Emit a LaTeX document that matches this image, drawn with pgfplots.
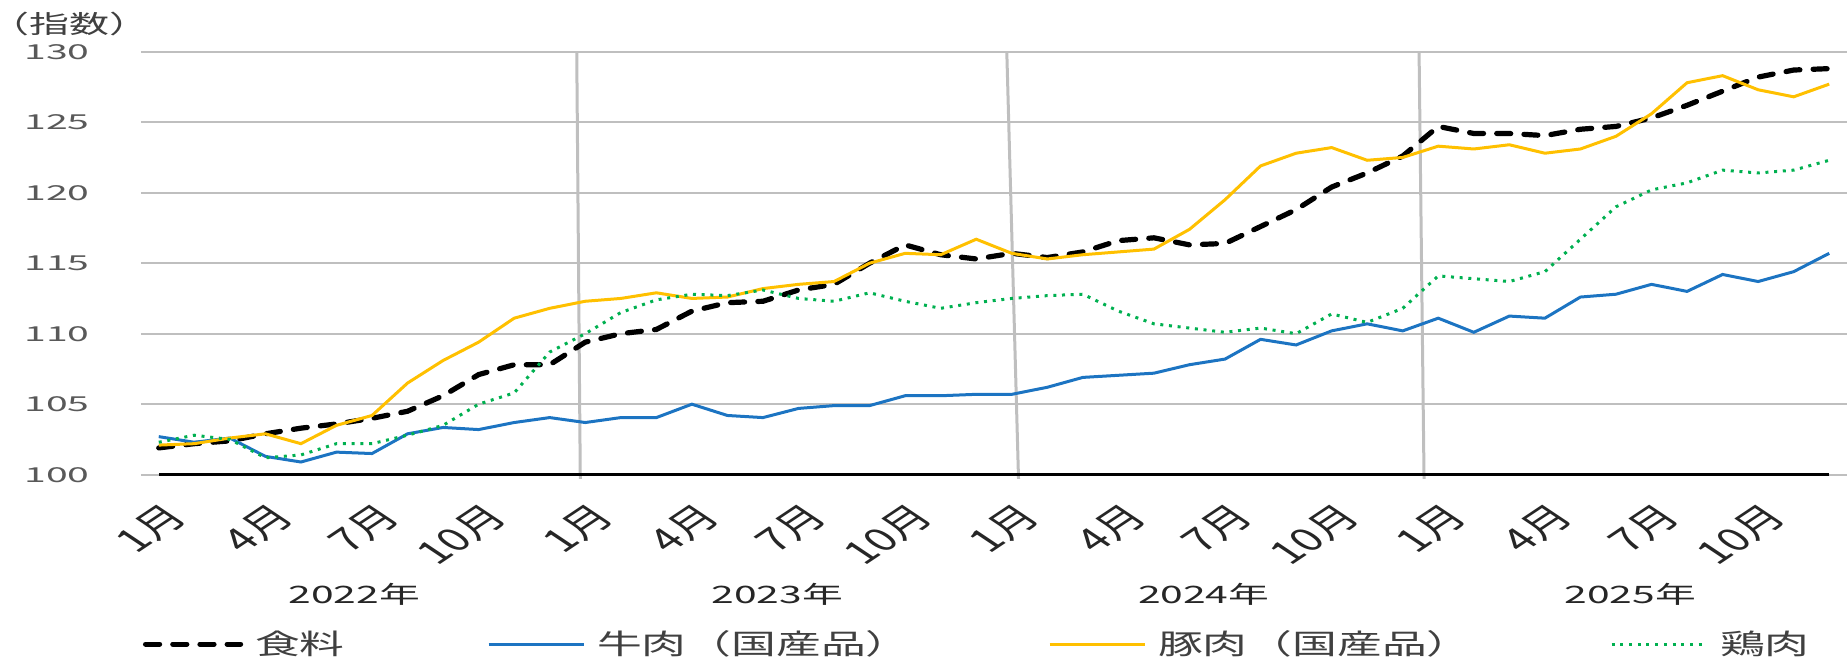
\documentclass[border=0pt]{standalone}
\usepackage{pgfplots}
\pgfplotsset{compat=1.18}
\usepackage{fontspec}
\usepackage{graphicx}
\setmainfont{Noto Sans CJK JP}
\definecolor{gridgray}{HTML}{BFBFBF}
\definecolor{beef}{HTML}{1C74C2}
\definecolor{pork}{HTML}{FFC000}
\definecolor{chicken}{HTML}{00B050}
\definecolor{tickgray}{HTML}{595959}
\definecolor{txt}{HTML}{404040}
\newcommand{\Ynum}[1]{\scalebox{1.9}[1]{#1}}
\newcommand{\Str}[1]{\scalebox{1.6}[1]{#1}}
\newcommand{\Yr}[1]{\scalebox{1.7}[1]{#1}}
\pgfplotstableread{
m food beef pork chicken
0 101.9 102.7 102.1 102.3
1 102.2 102.3 102.2 102.8
2 102.4 102.6 102.6 102.5
3 102.9 101.3 102.9 101.2
4 103.3 100.9 102.2 101.4
5 103.6 101.6 103.5 102.2
6 104.0 101.5 104.2 102.2
7 104.5 102.9 106.5 102.8
8 105.6 103.35 108.1 103.5
9 107.1 103.2 109.4 105.0
10 107.8 103.7 111.1 105.8
11 107.8 104.05 111.8 108.7
12 109.4 103.7 112.3 110.0
13 110.0 104.05 112.5 111.5
14 110.3 104.05 112.9 112.4
15 111.6 105.0 112.5 112.8
16 112.2 104.2 112.6 112.7
17 112.3 104.05 113.2 113.1
18 113.1 104.7 113.5 112.5
19 113.5 104.9 113.7 112.3
20 115.0 104.9 115.0 112.9
21 116.3 105.6 115.7 112.3
22 115.6 105.6 115.6 111.8
23 115.3 105.7 116.7 112.2
24 115.7 105.7 115.7 112.5
25 115.4 106.2 115.3 112.7
26 115.8 106.9 115.6 112.8
27 116.6 107.05 115.8 111.6
28 116.8 107.2 116.0 110.7
29 116.3 107.8 117.4 110.4
30 116.4 108.2 119.5 110.1
31 117.6 109.6 121.9 110.4
32 118.8 109.2 122.8 110.0
33 120.4 110.2 123.2 111.4
34 121.4 110.7 122.3 110.8
35 122.6 110.2 122.5 111.8
36 124.7 111.1 123.3 114.1
37 124.2 110.1 123.1 113.9
38 124.2 111.25 123.4 113.7
39 124.05 111.1 122.8 114.4
40 124.5 112.6 123.1 116.7
41 124.7 112.8 124.0 119.0
42 125.3 113.5 125.6 120.2
43 126.2 113.0 127.8 120.7
44 127.2 114.2 128.3 121.6
45 128.2 113.7 127.3 121.4
46 128.7 114.4 126.8 121.6
47 128.8 115.7 127.7 122.3
}\data
\begin{document}
\begin{tikzpicture}
\begin{axis}[
  at={(0,0)}, anchor=south west,
  scale only axis, width=853pt, height=211.5pt,
  xmin=-0.5, xmax=47.5, ymin=100, ymax=130,
  clip=false,
  axis line style={draw=none},
  major tick length=0pt,
  ymajorgrids,
  major grid style={gridgray, line width=1pt},
  ytick={100,105,110,115,120,125,130},
  yticklabels={\Ynum{100},\Ynum{105},\Ynum{110},\Ynum{115},\Ynum{120},\Ynum{125},\Ynum{130}},
  yticklabel style={font=\fontsize{10.3}{12}\selectfont, text=tickgray, anchor=east, inner sep=0pt, xshift=-25.5pt},
  xtick={0,3,...,45},
  xticklabels={1月,4月,7月,10月,1月,4月,7月,10月,1月,4月,7月,10月,1月,4月,7月,10月},
  xticklabel style={font=\fontsize{16}{18}\selectfont, text=black!85, inner sep=0pt, yshift=-13pt, xshift=2pt, xscale=1.5, rotate=45, anchor=north east},
  legend columns=4,
  legend image code/.code={\draw[#1] (0pt,0pt) -- (47.5pt,0pt);},
  legend style={at={(axis description cs:0,0)}, anchor=west, xshift=1pt, yshift=-84.7pt,
    draw=none, fill=none, inner sep=0pt, outer sep=0pt,
    font=\fontsize{14}{16}\selectfont, text=txt,
    nodes={inner sep=0pt},
    /tikz/every even column/.append style={column sep=0pt}},
]
\addplot[gridgray, line width=1.5pt, forget plot] coordinates {(11.76,130) (11.86,99.7)};
\addplot[gridgray, line width=1.5pt, forget plot] coordinates {(23.86,130) (24.19,99.7)};
\addplot[gridgray, line width=1.5pt, forget plot] coordinates {(35.46,130) (35.60,99.7)};
\addplot[black, line width=1.4pt, forget plot] coordinates {(0,100) (47,100)};
\addplot[black, line width=2.6pt, line cap=round, dash pattern=on 7pt off 6.6pt] table[x=m, y=food] {\data};
\addlegendentry{\makebox[122pt][l]{\hspace{6pt}\Str{食料}}}
\addplot[beef, line width=1.5pt] table[x=m, y=beef] {\data};
\addlegendentry{\makebox[231.5pt][l]{\hspace{6pt}\Str{牛肉（国産品）}}}
\addplot[pork, line width=1.5pt] table[x=m, y=pork] {\data};
\addlegendentry{\makebox[232pt][l]{\hspace{6pt}\Str{豚肉（国産品）}}}
\addplot[chicken, line width=1.5pt, dash pattern=on 1.5pt off 2.85pt] table[x=m, y=chicken] {\data};
\addlegendentry{\hspace{6pt}\Str{鶏肉}}
\node[font=\fontsize{12}{14}\selectfont, text=black!85] at (axis cs:5.5,100) [yshift=-60pt] {\Yr{2022年}};
\node[font=\fontsize{12}{14}\selectfont, text=black!85] at (axis cs:17.4,100) [yshift=-60pt] {\Yr{2023年}};
\node[font=\fontsize{12}{14}\selectfont, text=black!85] at (axis cs:29.4,100) [yshift=-60pt] {\Yr{2024年}};
\node[font=\fontsize{12}{14}\selectfont, text=black!85] at (axis cs:41.4,100) [yshift=-60pt] {\Yr{2025年}};
\node[font=\fontsize{12.5}{14}\selectfont, text=txt] at (rel axis cs:0,1) [xshift=-35.5pt, yshift=14pt] {\Str{（指数）}};
\end{axis}
\pgfresetboundingbox
\path[use as bounding box] (-70.5pt,-91.15pt) rectangle (853pt,237.35pt);
\end{tikzpicture}
\end{document}
